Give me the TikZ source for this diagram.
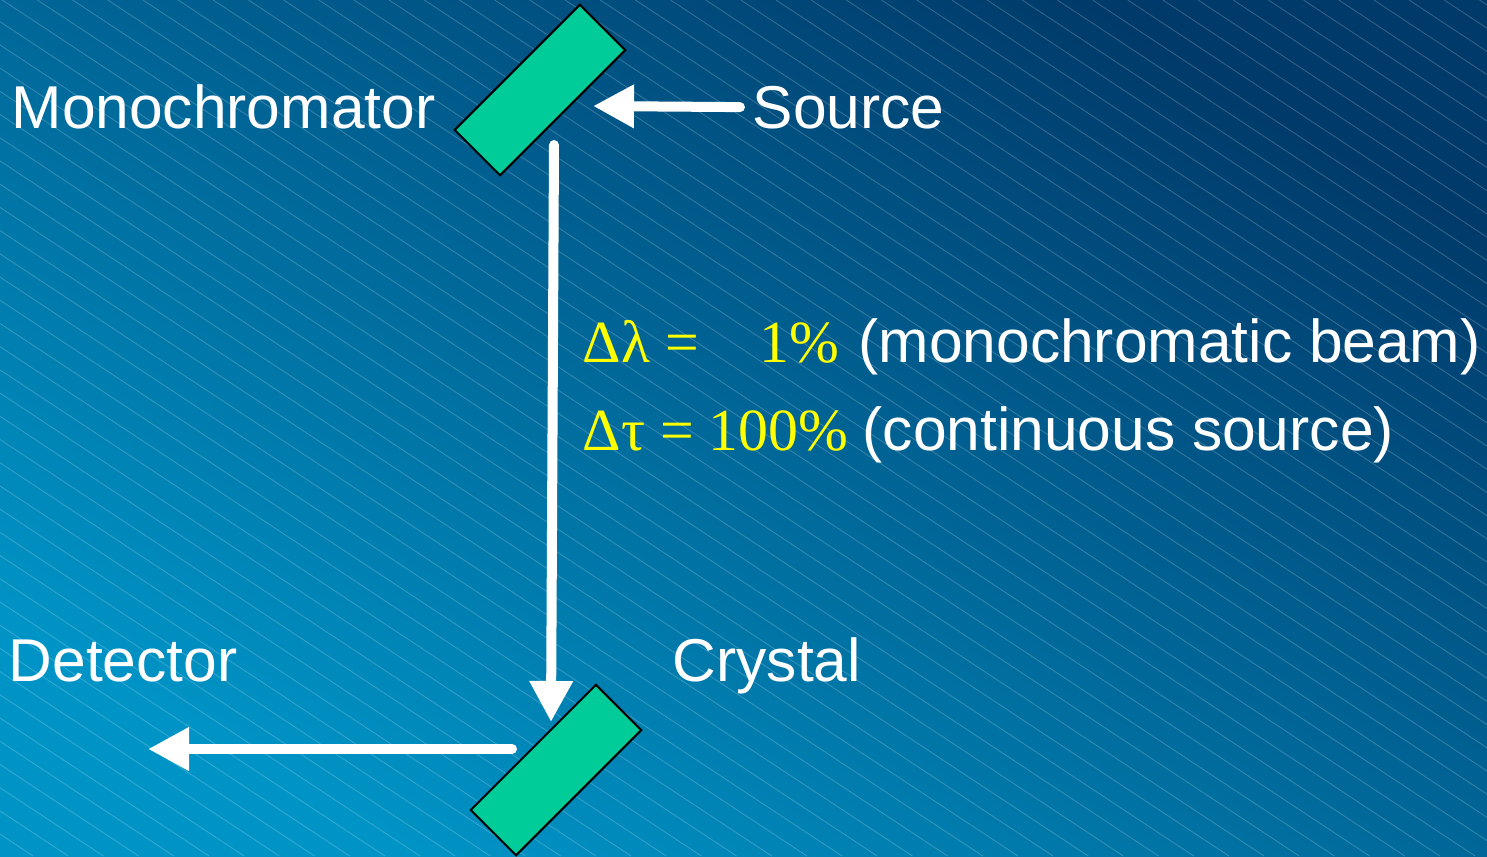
\documentclass[tikz,border=0pt]{standalone}
\usepackage{fontspec}
\setmainfont{Liberation Sans}
\newfontfamily\eqfont{Liberation Serif}
\usepackage{tikz}
\usetikzlibrary{arrows.meta,shapes.geometric}
\definecolor{BgLight}{HTML}{0094C6}
\definecolor{BgDark}{HTML}{003A6A}
\definecolor{MirrorGreen}{HTML}{00CC99}
\definecolor{EqYellow}{HTML}{FFFF00}
\tikzset{
  MR/.style={rectangle,draw=black,line width=0.6pt,fill=MirrorGreen,
             minimum width=1.77cm,minimum height=0.64cm,rotate=45,inner sep=0pt},
  TX/.style={text=white,font=\fontsize{17.2}{20}\selectfont,
             inner sep=0pt,anchor=base west},
  EQ/.style={text=EqYellow,font=\fontsize{17}{20}\selectfont\eqfont,inner sep=0pt},
  beam/.style={draw=white,line width=0.1cm,line cap=round,
               -{Triangle[length=0.41cm,width=0.41cm]}},
  hatch/.style={white,opacity=0.2,line width=0.25pt}
}

\begin{document}
\begin{tikzpicture}[x=0.01cm,y=-0.01cm]
  % background
  \shade[bottom color=BgLight,top color=BgDark,shading angle=-30] (0,0) rectangle (1487,856);
  \begin{scope}
    \clip (0,0) rectangle (1487,856);
    \foreach \h in {-1299,-1263.83,...,1487}
      \draw[hatch] (\h,0) -- ++(1297,856);
  \end{scope}
  \useasboundingbox (0,0) rectangle (1487,856);

  % mirrors
  \node[MR] (mono) at (540,90) {};
  \node[MR] (crys) at (556,770) {};

  % labels
  \node[TX] (monoTxt) at (11,128) {Monochromator};
  \node[TX] (src) at (752,128) {Source};
  \node[TX] (det) at (8,681) {Detector};
  \node[TX] (crysTxt) at (672,681) {Crystal};

  % spread of the beam
  \node[EQ,anchor=base west] (dl) at (582,362) {Δλ =};
  \node[EQ,anchor=base east] (dlVal) at (840,362) {1\%};
  \node[TX] (dlNote) at (858,362) {(monochromatic beam)};
  \node[EQ,anchor=base west] (dt) at (582,450) {Δτ = 100\%};
  \node[TX] (dtNote) at (862,450) {(continuous source)};

  % beam path
  \coordinate (monoIn) at (593,106);
  \coordinate (monoOut) at (554,145);
  \coordinate (crysIn) at (551,722);
  \coordinate (crysOut) at (512,749);
  \coordinate (detIn) at (148,749);
  \draw[beam,shorten <=0.12cm] (src.west) -- (monoIn);
  \draw[beam] (monoOut) -- (crysIn);
  \draw[beam] (crysOut) -- (detIn);
\end{tikzpicture}
\end{document}
